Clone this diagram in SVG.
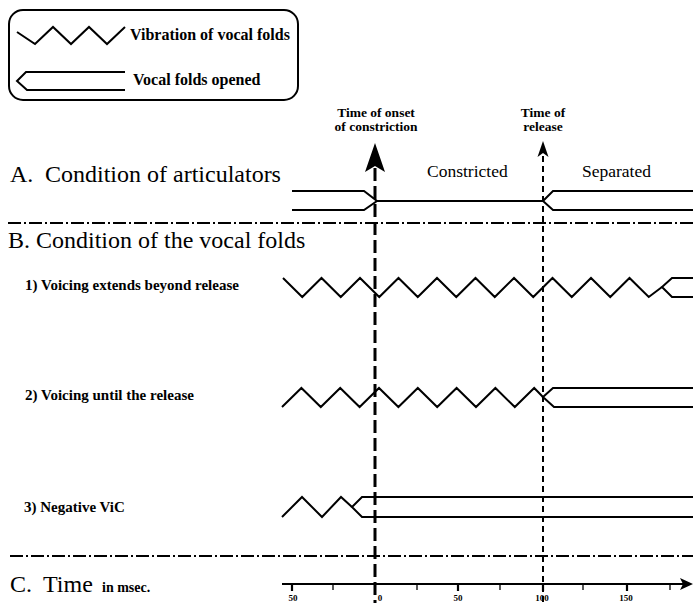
<svg xmlns="http://www.w3.org/2000/svg" width="693" height="603" viewBox="0 0 693 603" font-family="Liberation Serif, DejaVu Serif, serif">
<style>
.ln{fill:none;stroke:#000;stroke-width:2;stroke-linejoin:miter}
.dd{fill:none;stroke:#000;stroke-width:2;stroke-dasharray:13 3 2 3}
.hd{font-size:24px;fill:#000}
.sm{font-weight:bold;fill:#000}
.md{font-size:17.5px;fill:#000}
</style>
<rect width="693" height="603" fill="#fff"/>
<g id="legend">
<rect x="9" y="10" width="289" height="90" rx="14" ry="14" fill="none" stroke="#000" stroke-width="2"/>
<polyline class="ln" points="17,32 35,44 53,27 71,44 89,27 107,44 125,27"/>
<text class="sm" x="130" y="40" font-size="16" font-family="Liberation Serif">Vibration of vocal folds</text>
<path class="ln" d="M125,72 H26 L17,81 L27,90 H125"/>
<text class="sm" x="133" y="85" font-size="16" font-family="Liberation Serif">Vocal folds opened</text>
</g>
<g id="headings" font-family="Liberation Serif">
<text class="hd" x="10" y="182">A.</text>
<text class="hd" x="45" y="182">Condition of articulators</text>
<text class="hd" x="8" y="248">B. Condition of the vocal folds</text>
<text class="hd" x="10" y="592" font-size="23">C.</text>
<text class="hd" x="43" y="592" font-size="23">Time</text>
<text class="sm" x="102" y="592" font-size="14">in msec.</text>
</g>
<g id="time-labels" font-family="Liberation Serif">
<text class="sm" x="376" y="117" font-size="13.5" text-anchor="middle">Time of onset</text>
<text class="sm" x="376" y="131" font-size="13.5" text-anchor="middle">of constriction</text>
<text class="sm" x="543" y="117" font-size="13.5" text-anchor="middle">Time of</text>
<text class="sm" x="543" y="131" font-size="13.5" text-anchor="middle">release</text>
</g>
<g id="articulators" font-family="Liberation Serif">
<text class="md" x="427" y="177">Constricted</text>
<text class="md" x="582" y="177">Separated</text>
<path class="ln" d="M292,191 H364 L377,201 L364,210 H292"/>
<path class="ln" d="M377,201 H543"/>
<path class="ln" d="M693,191 H553 L543,201 L553,210 H693"/>
</g>
<g id="row1" font-family="Liberation Serif">
<text class="sm" x="25" y="290" font-size="15">1) Voicing extends beyond release</text>
<polyline class="ln" points="283,278 302.25,297 321.5,278 340.75,297 360,278 379.25,297 398.5,278 417.75,297 437,278 456.25,297 475.5,278 494.75,297 514,278 533.25,297 552.5,278 571.75,297 591,278 610.25,297 629.5,278 648.75,297 662,287"/>
<path class="ln" d="M693,278 H672 L662,287 L672,297 H693"/>
</g>
<g id="row2" font-family="Liberation Serif">
<text class="sm" x="25" y="400" font-size="15">2) Voicing until the release</text>
<polyline class="ln" points="282,407 301.4,388 320.8,407 340.2,388 359.6,407 379,388 398.4,407 417.8,388 437.2,407 456.6,388 476,407 495.4,388 514.8,407 534.2,388 543,397"/>
<path class="ln" d="M693,388 H553 L543,397 L554,407 H693"/>
</g>
<g id="row3" font-family="Liberation Serif">
<text class="sm" x="24" y="512" font-size="15">3) Negative ViC</text>
<polyline class="ln" points="282,517 302,497 322,517 341,497 352,507"/>
<path class="ln" d="M693,497 H362 L352,507 L362,517 H693"/>
</g>
<g id="axis" font-family="Liberation Serif">
<path class="ln" d="M282,584 H684"/>
<path d="M693,584 L680,578 L683,584 L680,590 Z" fill="#000"/>
<path fill="none" stroke="#000" stroke-width="2.2" d="M292,583 V591 M458,583 V591 M543,583 V591 M627,583 V591"/>
<path fill="none" stroke="#000" stroke-width="1.3" d="M333,584 V590 M417,584 V590 M500,584 V590 M583,584 V590 M670,584 V590"/>
<g class="sm" font-size="9" text-anchor="middle">
<text x="293" y="601">50</text>
<text x="380" y="601">0</text>
<text x="458" y="601">50</text>
<text x="542" y="601">100</text>
<text x="626" y="601">150</text>
</g>
</g>
<g id="connectors">
<path class="dd" d="M8,223 H693"/>
<path class="dd" d="M10,556 H693"/>
<path fill="none" stroke="#000" stroke-width="3" stroke-dasharray="13 5" d="M375,168 V603"/>
<path d="M375,143 L385,172 L375,166 L365,172 Z" fill="#000"/>
<path fill="none" stroke="#000" stroke-width="2" stroke-dasharray="6 4" d="M543,156 V603"/>
<path d="M543,141 L548.5,157 L543,153 L537.5,157 Z" fill="#000"/>
</g>
</svg>
